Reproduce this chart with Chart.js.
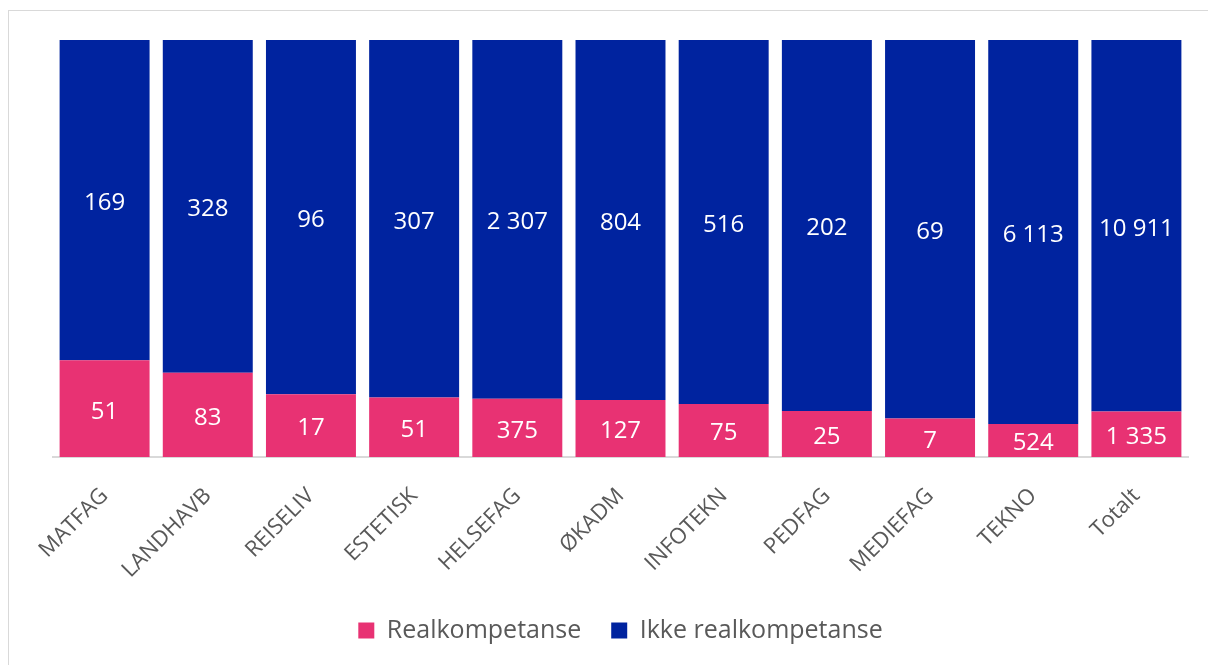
<!DOCTYPE html>
<html>
<head>
<meta charset="utf-8">
<script src="https://cdn.jsdelivr.net/npm/chart.js@4"></script>
<style>
  html, body { margin: 0; padding: 0; background: #fff; overflow: hidden; }
  #wrap { position: absolute; left: 8px; top: 10px; width: 1210px; height: 665px; border: 1px solid #d9d9d9; box-sizing: border-box; }
  #chart { position: absolute; left: 0; top: 0; width: 1192px; height: 650px; }
</style>
</head>
<body>
<div id="wrap"><div id="chart"><canvas id="c"></canvas></div></div>
<script>
// categories and counts
var categories = ['MATFAG', 'LANDHAVB', 'REISELIV', 'ESTETISK', 'HELSEFAG', 'ØKADM', 'INFOTEKN', 'PEDFAG', 'MEDIEFAG', 'TEKNO', 'Totalt'];
var realkompetanse = [51, 83, 17, 51, 375, 127, 75, 25, 7, 524, 1335];
var ikkeRealkompetanse = [169, 328, 96, 307, 2307, 804, 516, 202, 69, 6113, 10911];

// 100% stacked: share of each category
var realShare = realkompetanse.map((v, i) => v * 100 / (v + ikkeRealkompetanse[i]));
var ikkeShare = ikkeRealkompetanse.map((v, i) => v * 100 / (v + realkompetanse[i]));

var fontFamily = "'Open Sans', 'Noto Sans', sans-serif";

function fmt(n) {
  return String(n).replace(/\B(?=(\d{3})+(?!\d))/g, ' ');
}

// draws the counts in the middle of each segment
var valueLabels = {
  id: 'valueLabels',
  afterDatasetsDraw(chart) {
    var ctx = chart.ctx;
    ctx.save();
    ctx.fillStyle = '#ffffff';
    ctx.font = '24px ' + fontFamily;
    ctx.textAlign = 'center';
    ctx.textBaseline = 'middle';
    chart.data.datasets.forEach((ds, di) => {
      chart.getDatasetMeta(di).data.forEach((bar, i) => {
        var p = bar.getCenterPoint();
        ctx.fillText(fmt(ds.counts[i]), p.x, p.y + 3);
      });
    });
    ctx.restore();
  }
};

var ctx = document.getElementById('c').getContext('2d');
new Chart(ctx, {
  type: 'bar',
  data: {
    labels: categories,
    datasets: [{
      label: 'Realkompetanse',
      data: realShare,
      counts: realkompetanse,
      backgroundColor: '#e83273'
    }, {
      label: 'Ikke realkompetanse',
      data: ikkeShare,
      counts: ikkeRealkompetanse,
      backgroundColor: '#00239f'
    }]
  },
  options: {
    responsive: true,
    maintainAspectRatio: false,
    animation: false,
    layout: { padding: { left: 44, top: 29, right: 13, bottom: 8 } },
    datasets: { bar: { categoryPercentage: 0.872, barPercentage: 1 } },
    scales: {
      x: {
        stacked: true,
        grid: { display: false },
        border: { color: '#d9d9d9', width: 2 },
        afterFit: function(scale) { scale.height = 131; },
        ticks: {
          color: '#595959',
          font: { family: fontFamily, size: 22 },
          minRotation: 45,
          maxRotation: 45,
          padding: 18
        }
      },
      y: {
        stacked: true,
        min: 0,
        max: 100,
        display: false
      }
    },
    plugins: {
      legend: {
        position: 'bottom',
        labels: {
          color: '#595959',
          font: { family: fontFamily, size: 25 },
          boxWidth: 16,
          boxHeight: 16,
          padding: 30
        }
      },
      tooltip: { enabled: false }
    }
  },
  plugins: [valueLabels]
});
</script>
</body>
</html>
